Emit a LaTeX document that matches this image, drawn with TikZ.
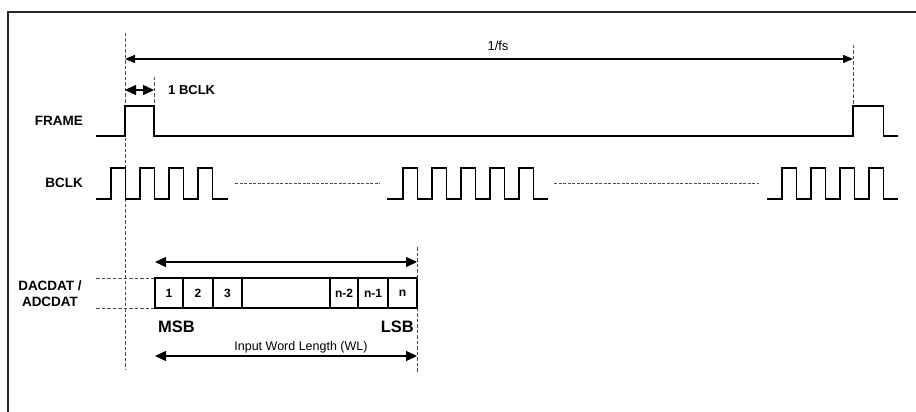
\documentclass[tikz,border=0pt]{standalone}
\usepackage{fontspec}
\setmainfont{Liberation Sans}
\usetikzlibrary{arrows.meta}

\tikzset{
  sig/.style={line width=1.8pt, line join=miter},
  guide/.style={line width=0.9pt, gray!60!black, dash pattern=on 3.5pt off 2pt},
  dim/.style={line width=1.4pt, {Triangle[length=11pt,width=10pt]}-{Triangle[length=11pt,width=10pt]}},
  lbl/.style={font=\bfseries\fontsize{13.5}{15}\selectfont, inner sep=0pt},
  bitcell/.style={draw, line width=1.3pt, minimum height=30pt, inner sep=0pt,
    font=\bfseries\fontsize{12}{14}\selectfont},
}

\begin{document}
\begin{tikzpicture}[x=1pt,y=-1pt]

    \useasboundingbox (0,0) rectangle (916,412);

    % frame of the figure
    \draw[line width=1.5pt, gray!30!black] (8,413) -- (8,12) -- (917,12);

    % guide lines
    \draw[guide] (125,33) -- (125,370);
    \draw[guide] (853,45) -- (853,106);
    \draw[guide] (154,77) -- (154,106);
    \draw[guide] (417,247) -- (417,372);
    \draw[guide] (96,278) -- (155,278);
    \draw[guide] (96,308) -- (155,308);

    % 1/fs and 1 BCLK
    \coordinate (fsa) at (125,59);
    \coordinate (fsb) at (853,59);
    \draw[dim, line width=1.3pt, {Triangle[length=10pt,width=8pt]}-{Triangle[length=10pt,width=8pt]}] (fsa) -- (fsb);
    \node[font=\fontsize{13}{15}\selectfont, inner sep=0pt] (fs) at (498,46) {1/fs};
    \coordinate (bka) at (125,90);
    \coordinate (bkb) at (154,90);
    \draw[dim] (bka) -- (bkb);
    \node[lbl, font=\bfseries\fontsize{13}{15}\selectfont, anchor=west] (onebclk) at (168,90) {1 BCLK};

    % FRAME
    \node[lbl, anchor=east] (frame) at (83,121) {FRAME};
    \draw[sig] (96,136) -- (125,136) -- (125,106) -- (154,106) -- (154,136)
      -- (853,136) -- (853,106) -- (883.5,106) -- (883.5,136) -- (898,136);

    % BCLK
    \node[lbl, anchor=east] (bclk) at (83,183) {BCLK};
    \draw[sig] (96,199) \foreach \k in {0,...,3} {
      -- ({111+29*\k},199) -- ({111+29*\k},168) -- ({125.5+29*\k},168) -- ({125.5+29*\k},199) } -- (228,199);
    \draw[sig] (387,199) \foreach \k in {0,...,4} {
      -- ({403+29*\k},199) -- ({403+29*\k},168) -- ({417.5+29*\k},168) -- ({417.5+29*\k},199) } -- (548,199);
    \draw[sig] (767,199) \foreach \k in {0,...,3} {
      -- ({782+29*\k},199) -- ({782+29*\k},168) -- ({796.5+29*\k},168) -- ({796.5+29*\k},199) } -- (898,199);
    \draw[guide, line width=0.8pt, dash pattern=on 3pt off 1.5pt] (235,183) -- (380,183);
    \draw[guide, line width=0.8pt, dash pattern=on 3pt off 1.5pt] (554,183) -- (759,183);

    % DACDAT / ADCDAT word
    \node[lbl, align=center] (data) at (50,294) {DACDAT /\\[1pt]ADCDAT};
    \node[bitcell, minimum width=28pt] (b1) at (169,293) {1};
    \node[bitcell, minimum width=30pt] (b2) at (198,293) {2};
    \node[bitcell, minimum width=29pt] (b3) at (227.5,293) {3};
    \node[bitcell, minimum width=88pt] (bgap) at (286,293) {};
    \node[bitcell, minimum width=28pt] (bn2) at (344,293) {n-2};
    \node[bitcell, minimum width=30pt] (bn1) at (373,293) {n-1};
    \node[bitcell, minimum width=29pt] (bn) at (402.5,293) {n};

    \coordinate (wla) at (155,262);
    \coordinate (wlb) at (417,262);
    \draw[dim] (wla) -- (wlb);
    \node[lbl, font=\bfseries\fontsize{16.5}{18}\selectfont, anchor=west] (msb) at (158,327) {MSB};
    \node[lbl, font=\bfseries\fontsize{16.5}{18}\selectfont, anchor=east] (lsb) at (414,327) {LSB};
    \node[font=\fontsize{12.5}{14}\selectfont, inner sep=0pt] (wl) at (301,347) {Input Word Length (WL)};
    \coordinate (wlc) at (155,356);
    \coordinate (wld) at (417,356);
    \draw[dim] (wlc) -- (wld);

\end{tikzpicture}
\end{document}
